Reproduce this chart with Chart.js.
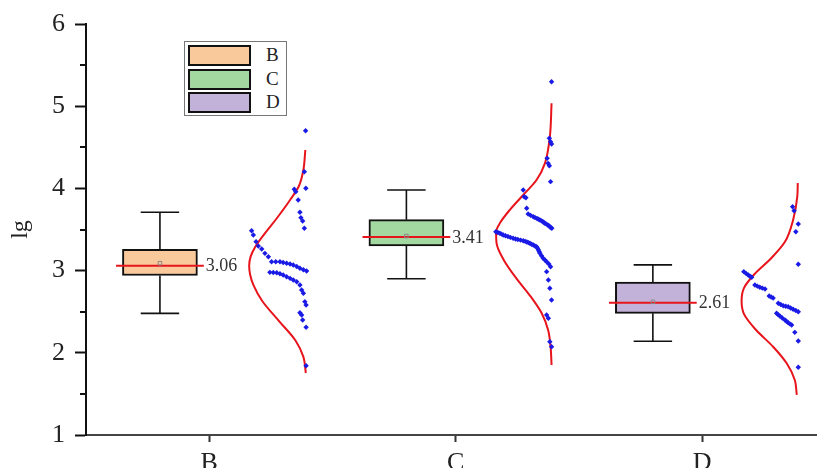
<!DOCTYPE html>
<html>
<head>
<meta charset="utf-8">
<script src="https://cdn.jsdelivr.net/npm/chart.js@4.4.1/dist/chart.umd.min.js"></script>
<style>
  html, body { margin: 0; padding: 0; background: #fff; }
  #wrap { position: relative; width: 817px; height: 468px; overflow: hidden; }
  #legend {
    position: absolute; left: 184px; top: 41px; width: 101px; height: 73px;
    border: 1px solid #777; background: #fff;
    font-family: 'Liberation Serif', serif; font-size: 19px; color: #222;
  }
  #legend .row { position: absolute; left: 3px; width: 96px; height: 22px; }
  #legend .sw { position: absolute; left: 0; top: 0; width: 59px; height: 17px; border: 2px solid #111; }
  #legend .lb { position: absolute; left: 78px; top: -1px; line-height: 22px; }
</style>
</head>
<body>
<div id="wrap">
  <canvas id="boxChart" width="817" height="468"></canvas>
  <div id="legend"></div>
</div>
<script>
// group names and box statistics
const categories = ['B', 'C', 'D'];
const whiskerLow = [2.48, 2.90, 2.14];
const boxLow = [2.94, 3.30, 2.48];
const medians = [3.06, 3.41, 2.61];
const boxHigh = [3.26, 3.62, 2.86];
const whiskerHigh = [3.71, 3.98, 3.07];
const means = [3.09, 3.42, 2.62];

// raw data points: [spread, value]
const pointsB = [
  [0.391, 4.702], [0.386, 4.203], [0.392, 4.001], [0.345, 3.989], [0.351, 3.960], [0.361, 3.859],
  [0.368, 3.709], [0.372, 3.644], [0.379, 3.603], [0.386, 3.515],
  [0.172, 3.485], [0.179, 3.433], [0.190, 3.352], [0.199, 3.299], [0.213, 3.263], [0.226, 3.210], [0.240, 3.169],
  [0.253, 3.108], [0.270, 3.108], [0.287, 3.108], [0.300, 3.099], [0.314, 3.089], [0.328, 3.080],
  [0.341, 3.068], [0.355, 3.050], [0.368, 3.028], [0.382, 3.011], [0.395, 2.995],
  [0.246, 2.979], [0.260, 2.977], [0.274, 2.974], [0.287, 2.961], [0.300, 2.946], [0.314, 2.926],
  [0.328, 2.906], [0.341, 2.886], [0.355, 2.865], [0.368, 2.825],
  [0.375, 2.764], [0.382, 2.724], [0.388, 2.622], [0.393, 2.582], [0.368, 2.488], [0.375, 2.460],
  [0.379, 2.399], [0.393, 2.310], [0.393, 1.843]
];
const pointsC = [
  [0.389, 5.298], [0.380, 4.610], [0.385, 4.568], [0.389, 4.540], [0.371, 4.366], [0.375, 4.305],
  [0.380, 4.276], [0.385, 4.082], [0.274, 3.981], [0.278, 3.899], [0.285, 3.887], [0.288, 3.758],
  [0.294, 3.689], [0.304, 3.672], [0.315, 3.656], [0.322, 3.645], [0.330, 3.634], [0.336, 3.625],
  [0.342, 3.616], [0.348, 3.605], [0.354, 3.595], [0.358, 3.585], [0.362, 3.575], [0.368, 3.565],
  [0.374, 3.555], [0.378, 3.545], [0.382, 3.534], [0.386, 3.525], [0.390, 3.515],
  [0.163, 3.473], [0.171, 3.463], [0.179, 3.454], [0.186, 3.444], [0.193, 3.433], [0.202, 3.424],
  [0.212, 3.415], [0.222, 3.404], [0.233, 3.393], [0.243, 3.385], [0.252, 3.378], [0.263, 3.371],
  [0.274, 3.364], [0.282, 3.356], [0.289, 3.348], [0.295, 3.340], [0.301, 3.332], [0.308, 3.321],
  [0.315, 3.311], [0.321, 3.301], [0.328, 3.291], [0.332, 3.271], [0.336, 3.251], [0.339, 3.230],
  [0.342, 3.210], [0.348, 3.180], [0.355, 3.150], [0.362, 3.129], [0.369, 3.108], [0.378, 3.080],
  [0.385, 3.047], [0.369, 2.987], [0.376, 2.886], [0.382, 2.785], [0.389, 2.642], [0.369, 2.460],
  [0.376, 2.420], [0.382, 2.135], [0.389, 2.074]
];
const pointsD = [
  [0.367, 3.777], [0.373, 3.729], [0.390, 3.567], [0.380, 3.473], [0.390, 3.077],
  [0.169, 2.987], [0.178, 2.966], [0.187, 2.946], [0.194, 2.932], [0.201, 2.919],
  [0.214, 2.825], [0.224, 2.811], [0.234, 2.797], [0.244, 2.787], [0.255, 2.776],
  [0.272, 2.691], [0.280, 2.679], [0.288, 2.667],
  [0.309, 2.602], [0.319, 2.588], [0.329, 2.573], [0.339, 2.567], [0.349, 2.561], [0.359, 2.545],
  [0.369, 2.529], [0.380, 2.515], [0.390, 2.500],
  [0.302, 2.481], [0.308, 2.465], [0.315, 2.448], [0.325, 2.424], [0.336, 2.399], [0.342, 2.383],
  [0.349, 2.366], [0.356, 2.352], [0.363, 2.338], [0.376, 2.249], [0.390, 2.144], [0.390, 1.824]
];

// fitted normal curves: [spread, value]
const curveB = [
  [0.390, 4.467], [0.382, 4.224], [0.364, 4.029], [0.328, 3.859], [0.275, 3.640], [0.225, 3.450],
  [0.187, 3.290], [0.168, 3.170], [0.162, 3.060], [0.166, 2.950], [0.180, 2.820], [0.215, 2.630],
  [0.285, 2.380], [0.350, 2.150], [0.382, 1.950], [0.392, 1.754]
];
const curveC = [
  [0.389, 5.035], [0.382, 4.629], [0.362, 4.305], [0.328, 4.102], [0.274, 3.920], [0.220, 3.740],
  [0.182, 3.590], [0.164, 3.470], [0.166, 3.330], [0.195, 3.130], [0.250, 2.890], [0.303, 2.690],
  [0.349, 2.481], [0.375, 2.277], [0.385, 2.074], [0.389, 1.852]
];
const curveD = [
  [0.388, 4.066], [0.386, 3.900], [0.369, 3.616], [0.336, 3.350], [0.280, 3.150], [0.210, 2.950],
  [0.170, 2.790], [0.160, 2.630], [0.170, 2.470], [0.218, 2.280], [0.288, 2.074], [0.343, 1.872],
  [0.376, 1.669], [0.384, 1.487]
];

const yTicks = [1, 2, 3, 4, 5, 6];

const groupPoints = [pointsB, pointsC, pointsD];
const groupCurves = [curveB, curveC, curveD];

// styling / layout
const boxColors = ['#F9C89B', '#A3D8A0', '#C2B2D9'];
const FONT = "'Liberation Serif', 'Times New Roman', serif";
const BOX_SHIFT = -0.2;
const MED_HALF = 0.178;
const CAP_HALF = 0.078;

const toXY = (arr, i) => arr.map(p => ({ x: i + 1 + p[0], y: p[1] }));

const whiskerData = [];
const capData = [];
const medianData = [];
categories.forEach((c, i) => {
  const cx = i + 1 + BOX_SHIFT;
  whiskerData.push({ x: cx, y: boxHigh[i] }, { x: cx, y: whiskerHigh[i] }, { x: cx, y: null });
  whiskerData.push({ x: cx, y: boxLow[i] }, { x: cx, y: whiskerLow[i] }, { x: cx, y: null });
  capData.push({ x: cx - CAP_HALF, y: whiskerHigh[i] }, { x: cx + CAP_HALF, y: whiskerHigh[i] }, { x: cx, y: null });
  capData.push({ x: cx - CAP_HALF, y: whiskerLow[i] }, { x: cx + CAP_HALF, y: whiskerLow[i] }, { x: cx, y: null });
  medianData.push({ x: cx - MED_HALF, y: medians[i] }, { x: cx + MED_HALF, y: medians[i] }, { x: cx, y: null });
});

const datasets = [
  {
    type: 'bar',
    label: 'box',
    data: categories.map((c, i) => ({ x: i + 1 + BOX_SHIFT, y: [boxLow[i], boxHigh[i]] })),
    backgroundColor: boxColors,
    borderColor: '#111',
    borderWidth: 2,
    borderSkipped: false,
    barThickness: 75,
    grouped: false,
    order: 5
  },
  {
    label: 'whiskers', data: whiskerData.concat(capData), showLine: true, spanGaps: false,
    borderColor: '#111', borderWidth: 1.6, pointRadius: 0, order: 4
  },
  {
    label: 'median', data: medianData, showLine: true, spanGaps: false,
    borderColor: '#E8141B', borderWidth: 2, pointRadius: 0, order: 1
  },
  {
    label: 'mean', data: categories.map((c, i) => ({ x: i + 1 + BOX_SHIFT, y: means[i] })),
    pointStyle: 'rect', pointRadius: 2.5, borderColor: '#888', borderWidth: 1,
    backgroundColor: 'rgba(0,0,0,0)', order: 0
  }
];

groupCurves.forEach((curve, i) => {
  datasets.push({
    label: 'curve ' + categories[i], data: toXY(curve, i), showLine: true,
    indexAxis: 'y', cubicInterpolationMode: 'monotone',
    borderColor: '#E8141B', borderWidth: 2, pointRadius: 0, order: 3
  });
});
groupPoints.forEach((pts, i) => {
  datasets.push({
    label: 'points ' + categories[i], data: toXY(pts, i),
    pointStyle: 'rectRot', pointRadius: 2.7, borderWidth: 0,
    backgroundColor: '#1A1AE6', order: 2
  });
});

const extrasPlugin = {
  id: 'extras',
  afterDraw(chart) {
    const { ctx, scales: { x, y } } = chart;
    ctx.save();
    // minor ticks on the y axis
    ctx.strokeStyle = '#111';
    ctx.lineWidth = 2;
    for (let v = 1.5; v < 6; v += 1) {
      const py = Math.round(y.getPixelForValue(v));
      ctx.beginPath();
      ctx.moveTo(y.right - 6, py);
      ctx.lineTo(y.right, py);
      ctx.stroke();
    }
    // median value labels
    ctx.fillStyle = '#333';
    ctx.font = '18px ' + FONT;
    ctx.textBaseline = 'middle';
    ctx.textAlign = 'left';
    medians.forEach((m, i) => {
      const px = x.getPixelForValue(i + 1 + BOX_SHIFT + MED_HALF) + 2;
      ctx.fillText(m.toFixed(2), px, y.getPixelForValue(m) + 1);
    });
    ctx.restore();
  }
};

new Chart(document.getElementById('boxChart'), {
  type: 'scatter',
  data: { datasets },
  options: {
    responsive: false,
    animation: false,
    events: [],
    layout: { autoPadding: false, padding: { top: 24, left: 0, right: 0, bottom: 0 } },
    plugins: {
      legend: { display: false },
      tooltip: { enabled: false }
    },
    scales: {
      x: {
        type: 'linear',
        min: 0.5,
        max: 3.466,
        offset: false,
        afterBuildTicks(s) { s.ticks = categories.map((c, i) => ({ value: i + 1 })); },
        afterFit(s) { s.height = 33; s.paddingLeft = 0; s.paddingRight = 0; },
        ticks: {
          autoSkip: false, maxRotation: 0, padding: 6,
          font: { family: FONT, size: 26 }, color: '#222',
          callback: v => categories[Math.round(v) - 1]
        },
        grid: { offset: false, drawOnChartArea: false, tickLength: 7, tickWidth: 2, tickColor: '#333' },
        border: { color: '#444', width: 2 }
      },
      y: {
        type: 'linear',
        min: 1,
        max: 6,
        afterBuildTicks(s) { s.ticks = yTicks.map(v => ({ value: v })); },
        afterFit(s) { s.width = 86; s.paddingTop = 0; s.paddingBottom = 0; },
        ticks: {
          padding: 10,
          font: { family: FONT, size: 26 }, color: '#222'
        },
        grid: { drawOnChartArea: false, tickLength: 11, tickWidth: 2, tickColor: '#111' },
        border: { color: '#111', width: 2 },
        title: {
          display: true, text: 'lg', color: '#222',
          font: { family: FONT, size: 24 }, padding: { top: 6, bottom: 0 }
        }
      }
    }
  },
  plugins: [extrasPlugin]
});

// legend
const legend = document.getElementById('legend');
categories.forEach((c, i) => {
  const row = document.createElement('div');
  row.className = 'row';
  row.style.top = (3 + i * 23.5) + 'px';
  row.innerHTML = '<div class="sw" style="background:' + boxColors[i] + '"></div><span class="lb">' + c + '</span>';
  legend.appendChild(row);
});
</script>
</body>
</html>
